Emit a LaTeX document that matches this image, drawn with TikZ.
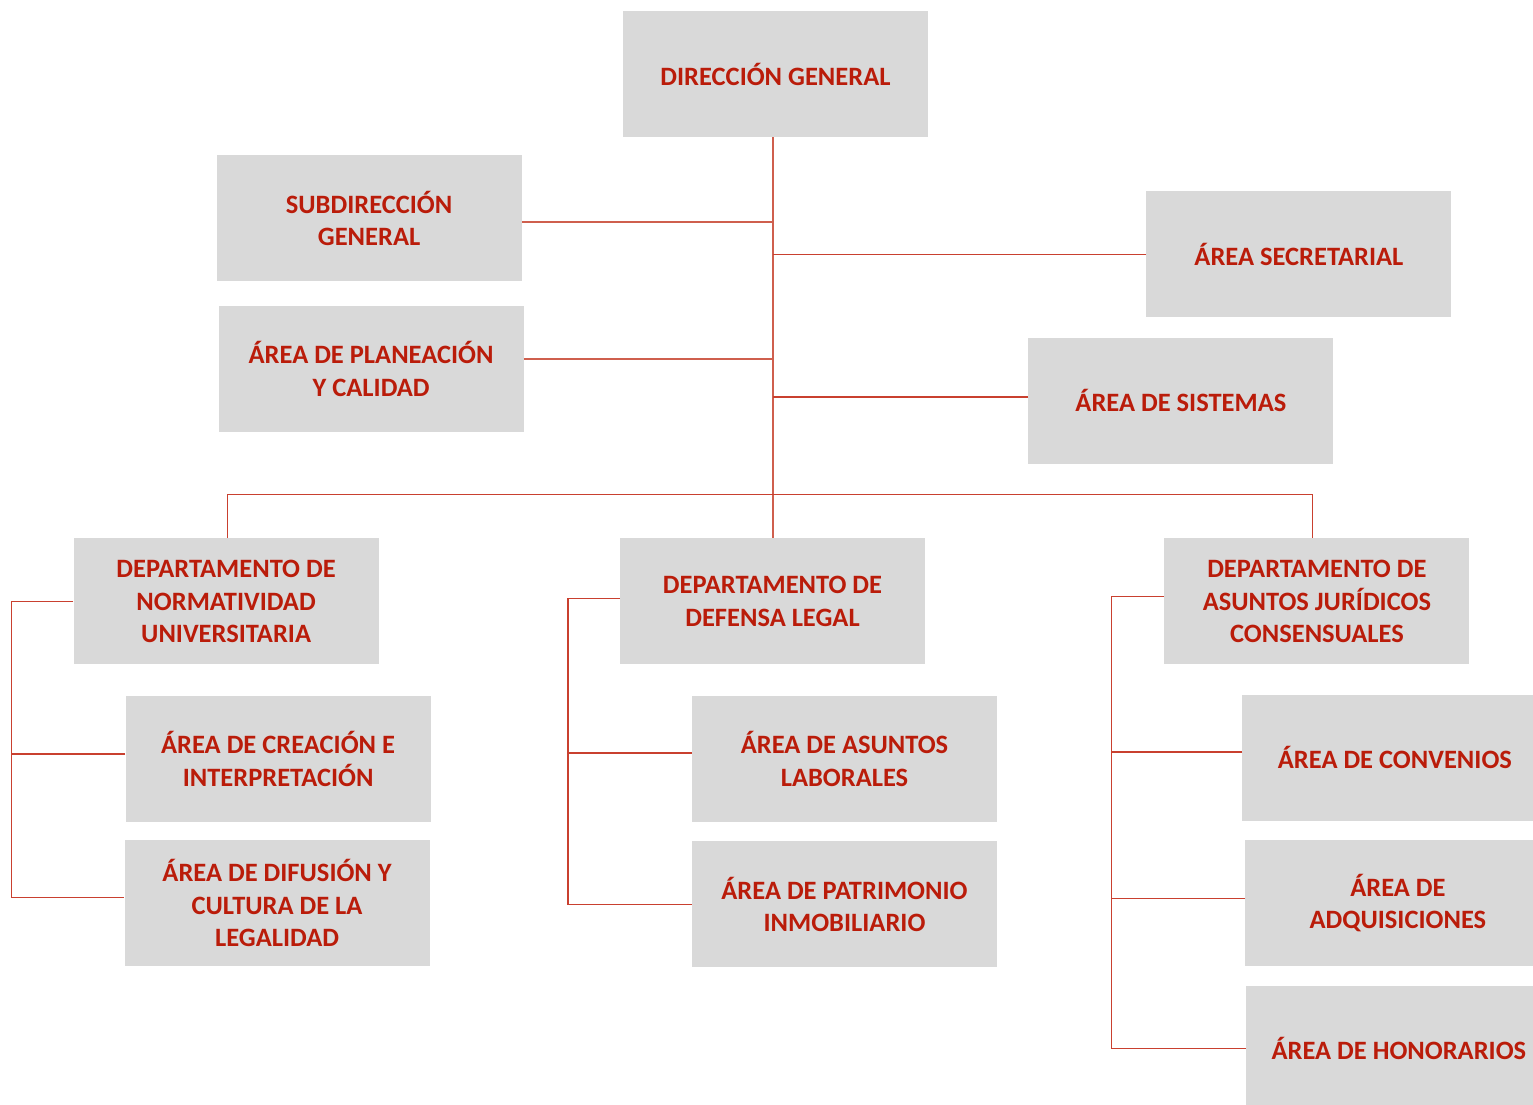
\documentclass[tikz,border=0pt]{standalone}
\usepackage{fontspec}
\setmainfont{Carlito}
\usetikzlibrary{positioning}
\definecolor{boxgray}{HTML}{D9D9D9}
\definecolor{orgred}{HTML}{BA1C0A}
\definecolor{linkred}{HTML}{C9402F}
\definecolor{trunkred}{HTML}{CF5F4E}

\begin{document}
\begin{tikzpicture}[
    font=\fontsize{26.5}{32.5}\selectfont\bfseries,
    box/.style={rectangle, fill=boxgray, text=orgred, align=center, minimum width=305pt, minimum height=126pt, inner sep=0pt},
    link/.style={draw=linkred, line width=1.4pt},
    trunk/.style={draw=trunkred, line width=2pt}
]
\clip (0,0) rectangle (1533pt,-1104pt);

% --- Direccion and its staff areas ---
\node[box] (dg) at (775.5pt,-74pt) {DIRECCIÓN GENERAL};
\node[box, below left=18pt and 101pt of dg] (sub) {SUBDIRECCIÓN\\GENERAL};
\node[box, below=24pt of sub, xshift=2pt] (plan) {ÁREA DE PLANEACIÓN\\Y CALIDAD};
\node[box, below right=54pt and 218pt of dg] (secr) {ÁREA SECRETARIAL};
\node[box, below=20pt of secr, xshift=-118pt] (sist) {ÁREA DE SISTEMAS};

% --- Departamentos ---
\node[box, below=401pt of dg, xshift=-3pt] (ddl) {DEPARTAMENTO DE\\DEFENSA LEGAL};
\node[box, left=241pt of ddl] (dnu) {DEPARTAMENTO DE\\NORMATIVIDAD\\UNIVERSITARIA};
\node[box, right=239pt of ddl] (daj) {DEPARTAMENTO DE\\ASUNTOS JURÍDICOS\\CONSENSUALES};

% --- Areas under each departamento ---
\node[box, below=31pt of dnu, xshift=52pt] (acr) {ÁREA DE CREACIÓN E\\INTERPRETACIÓN};
\node[box, below=18pt of acr, xshift=-1pt] (adi) {ÁREA DE DIFUSIÓN Y\\CULTURA DE LA\\LEGALIDAD};
\node[box, below=31pt of ddl, xshift=72pt] (aal) {ÁREA DE ASUNTOS\\LABORALES};
\node[box, below=19pt of aal] (apa) {ÁREA DE PATRIMONIO\\INMOBILIARIO};
\node[box, below=30pt of daj, xshift=78pt] (acv) {ÁREA DE CONVENIOS};
\node[box, below=19pt of acv, xshift=3pt] (aad) {ÁREA DE\\ADQUISICIONES};
\node[box, below=19pt of aad, xshift=1pt] (aho) {ÁREA DE HONORARIOS};

% --- Connectors: main trunk ---
\draw[trunk] (ddl.north |- dg.south) -- (ddl.north);
\draw[trunk] ([yshift=-4pt]sub.east) -- ([yshift=-4pt]sub.east -| ddl.north);
\draw[trunk] ([yshift=10pt]plan.east) -- ([yshift=10pt]plan.east -| ddl.north);
\draw[link] (secr.west) -- (secr.west -| ddl.north);
\draw[link] ([yshift=4pt]sist.west) -- ([yshift=4pt]sist.west -| ddl.north);
\draw[link] ([xshift=1.5pt]dnu.north) -- ++(0,44pt) -| ([xshift=-4.5pt]daj.north);

% --- Connectors: departamento groups ---
\coordinate[left=62pt of dnu.west] (lbar);
\draw[link] (dnu.west) -- (lbar) |- ([yshift=6pt]adi.west);
\draw[link] ([yshift=5pt]acr.west) -- ([yshift=5pt]acr.west -| lbar);

\coordinate[left=52pt of ddl.west] (mbar);
\draw[link] ([yshift=3pt]ddl.west) -- ([yshift=3pt]mbar) |- (apa.west);
\draw[link] ([yshift=6pt]aal.west) -- ([yshift=6pt]aal.west -| mbar);

\coordinate[left=53pt of daj.west] (rbar);
\draw[link] ([yshift=5pt]daj.west) -- ([yshift=5pt]rbar) |- (aho.west);
\draw[link] ([yshift=6pt]acv.west) -- ([yshift=6pt]acv.west -| rbar);
\draw[link] ([yshift=5pt]aad.west) -- ([yshift=5pt]aad.west -| rbar);

\end{tikzpicture}
\end{document}
